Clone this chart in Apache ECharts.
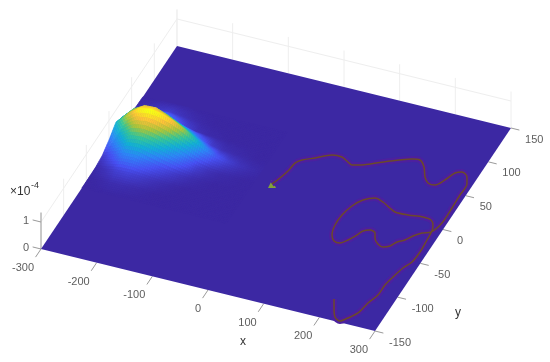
<!DOCTYPE html>
<html>
<head>
<meta charset="utf-8">
<style>
html, body { margin: 0; padding: 0; background: #fff; }
#chart { width: 550px; height: 362px; }
</style>
<script src="https://cdn.jsdelivr.net/npm/echarts@6/dist/echarts.min.js"></script>
</head>
<body>
<div id="chart"></div>
<script>
var xTicks = [-300, -200, -100, 0, 100, 200, 300];
var yTicks = [-150, -100, -50, 0, 50, 100, 150];
var zTicks = [0, 1];
var zTop = 1.35;

// density, in units of 1e-4, zero everywhere outside this patch
var hillX = [-300, -280, -260, -240, -220, -200, -180, -160, -140, -120, -100, -80, -60, -40];
var hillY = [75, 60, 45, 30, 15, 0, -15, -30, -45, -60];
var hillZ = [
    [0.00, 0.00, 0.01, 0.01, 0.01, 0.00, 0.00, 0.00, 0.00, 0.00, 0.00, 0.00, 0.00, 0.00],
    [0.02, 0.04, 0.08, 0.10, 0.06, 0.03, 0.01, 0.00, 0.00, 0.00, 0.00, 0.00, 0.00, 0.00],
    [0.14, 0.24, 0.38, 0.42, 0.28, 0.13, 0.05, 0.02, 0.01, 0.00, 0.00, 0.00, 0.00, 0.00],
    [0.38, 0.78, 1.00, 1.02, 0.86, 0.66, 0.46, 0.26, 0.10, 0.04, 0.02, 0.01, 0.00, 0.00],
    [0.55, 0.95, 1.25, 1.33, 1.28, 1.15, 0.95, 0.68, 0.42, 0.22, 0.12, 0.06, 0.03, 0.01],
    [0.28, 0.52, 0.78, 0.84, 0.76, 0.62, 0.45, 0.28, 0.12, 0.05, 0.02, 0.01, 0.00, 0.00],
    [0.08, 0.22, 0.38, 0.40, 0.30, 0.20, 0.13, 0.07, 0.03, 0.01, 0.00, 0.00, 0.00, 0.00],
    [0.01, 0.06, 0.12, 0.13, 0.10, 0.06, 0.03, 0.01, 0.00, 0.00, 0.00, 0.00, 0.00, 0.00],
    [0.00, 0.01, 0.03, 0.03, 0.02, 0.01, 0.00, 0.00, 0.00, 0.00, 0.00, 0.00, 0.00, 0.00],
    [0.00, 0.00, 0.00, 0.00, 0.00, 0.00, 0.00, 0.00, 0.00, 0.00, 0.00, 0.00, 0.00, 0.00]
];

var trackX = [-10.9, -4.7, 0.9, 2.9, 10.6, 28.6, 51.8, 69.2, 83.6, 92.9, 108.3, 119.7, 147.4, 179.3, 192.6, 206.1, 217.9, 228.8, 241.6, 251.9, 260.1, 269.8, 282.7, 289.9, 290.5, 291.6, 291.6, 284, 271.2, 260.4, 252.2, 241.9, 235.2, 225.4, 214.6, 203.8, 198.7, 187.9, 178.1, 172.9, 164.2, 155, 143.7, 134.4, 128.7, 129.2, 135.3, 146.1, 162.5, 178.9, 195.9, 207.8, 231, 256.1, 271.6, 279.9, 284.5, 286.1, 287.7, 285.7, 278, 271.9, 267.8, 267.3, 260.2, 255.1, 244.8, 235.6, 223.8, 213, 203.7];
var trackY = [4.5, 14.6, 27.6, 38.2, 44.2, 50.9, 60, 60.5, 56.1, 53.5, 56.6, 60.4, 70.4, 79.8, 81, 73.4, 61.1, 54.4, 54, 63.5, 75.4, 78.9, 74.1, 65.2, 49.1, 30.1, 8, -6.9, -11, -17.6, -25.2, -30.2, -37.5, -40.9, -38.7, -31.9, -25.6, -23.4, -26.9, -33.7, -42.9, -49.2, -48.5, -41.5, -27.9, -13.1, 1.5, 12.5, 18.8, 16.2, 10.7, 7.3, 7.5, 9.6, 8.3, 2.6, -5.4, -18.3, -35.7, -50.9, -61.3, -75.8, -88.5, -103.4, -116.6, -132.4, -141.9, -148.2, -144.7, -133.6, -122.2];

var parula = [[60, 40, 163], [72, 82, 244], [46, 135, 247], [18, 177, 214], [55, 200, 151], [171, 199, 57], [254, 195, 56], [249, 251, 21]];
var colorMax = 1.28;
var subSteps = 6;

// orthographic view of the box, the hidden axes below run in page pixels
function project(x, y, z) {
    return [
        41 + (x + 300) * 0.5567 + (y + 150) * 0.4533,
        249 + (x + 300) * 0.1367 - (y + 150) * 0.6767 - z * 27
    ];
}

function zColor(z) {
    var t = Math.min(Math.max(z / colorMax, 0), 1) * (parula.length - 1);
    var i = Math.min(Math.floor(t), parula.length - 2);
    var f = t - i;
    var c = [0, 1, 2].map(function(k) {
        return Math.round(parula[i][k] + (parula[i + 1][k] - parula[i][k]) * f);
    });
    return "rgb(" + c.join(",") + ")";
}

function segment(a, b) {
    return a.concat(b);
}

var wallSegments = [];
xTicks.forEach(function(x) {
    wallSegments.push(segment([x, 150, 0], [x, 150, zTop]));
});
yTicks.forEach(function(y) {
    wallSegments.push(segment([-300, y, 0], [-300, y, zTop]));
});
wallSegments.push(segment([-300, -150, 1], [-300, 150, 1]));
wallSegments.push(segment([-300, 150, 1], [300, 150, 1]));

var tickSegments = [segment([-300, -150, 0], [-300, -150, zTop])];
xTicks.forEach(function(x) {
    tickSegments.push(segment([x, -150, 0], [x, -162, 0]));
});
yTicks.forEach(function(y) {
    tickSegments.push(segment([300, y, 0], [315, y, 0]));
});
zTicks.forEach(function(z) {
    tickSegments.push(segment([-300, -150, z], [-315, -150, z]));
});

function renderSegment(params, api) {
    var a = api.coord(project(api.value(0), api.value(1), api.value(2)));
    var b = api.coord(project(api.value(3), api.value(4), api.value(5)));
    return {
        type: "line",
        shape: { x1: a[0], y1: a[1], x2: b[0], y2: b[1] },
        style: api.style({ fill: null, stroke: api.visual("color"), lineWidth: 1 })
    };
}

// back to front so the front of the hill covers the back
var hillCells = [];
for (let j = 0; j < hillY.length - 1; j++) {
    for (let i = 0; i < hillX.length - 1; i++) {
        hillCells.push([i, j]);
    }
}

function renderCell(params, api) {
    var i = api.value(0);
    var j = api.value(1);
    var children = [];
    // shading interp: each read cell is blended across its own corners
    for (let s = 0; s < subSteps; s++) {
        for (let t = 0; t < subSteps; t++) {
            var corners = [[s, t], [s, t + 1], [s + 1, t + 1], [s + 1, t]];
            var sum = 0;
            var points = corners.map(function(c) {
                var u = c[0] / subSteps;
                var v = c[1] / subSteps;
                var z = (1 - u) * (1 - v) * hillZ[j][i] + (1 - u) * v * hillZ[j][i + 1] + u * (1 - v) * hillZ[j + 1][i] + u * v * hillZ[j + 1][i + 1];
                sum += z;
                var x = hillX[i] + (hillX[i + 1] - hillX[i]) * v;
                var y = hillY[j] + (hillY[j + 1] - hillY[j]) * u;
                return api.coord(project(x, y, z));
            });
            var color = zColor(sum / 4);
            children.push({
                type: "polygon",
                shape: { points: points },
                style: { fill: color, stroke: color, lineWidth: 0.6 }
            });
        }
    }
    return { type: "group", children: children };
}

function renderPlane(params, api) {
    var points = [[-300, -150], [300, -150], [300, 150], [-300, 150]].map(function(c) {
        return api.coord(project(c[0], c[1], 0));
    });
    return { type: "polygon", shape: { points: points }, style: { fill: zColor(0) } };
}

function trackPoints() {
    return trackX.map(function(x, i) {
        return project(x, trackY[i], 0);
    });
}

function labelSeries(name, data, offset, align) {
    return {
        name: name,
        type: "scatter",
        symbolSize: 0,
        silent: true,
        z: 5,
        data: data,
        label: {
            show: true,
            position: offset,
            align: align,
            verticalAlign: "middle",
            color: "#333",
            fontFamily: "Liberation Sans",
            fontSize: 11,
            formatter: function(p) {
                return p.data[2];
            }
        }
    };
}

var chart = echarts.init(document.getElementById("chart"));
chart.setOption({
    animation: false,
    backgroundColor: "#fff",
    grid: { left: 0, right: 0, top: 0, bottom: 0 },
    xAxis: { type: "value", min: 0, max: 550, show: false },
    yAxis: { type: "value", min: 0, max: 362, inverse: true, show: false },
    graphic: [
        { type: "text", left: 10, top: 186, style: { text: "×10", fill: "#333", font: "12px Liberation Sans" } },
        { type: "text", left: 31, top: 181, style: { text: "-4", fill: "#333", font: "9px Liberation Sans" } },
        { type: "text", left: 240, top: 336, style: { text: "x", fill: "#333", font: "12px Liberation Sans" } },
        { type: "text", left: 455, top: 307, style: { text: "y", fill: "#333", font: "12px Liberation Sans" } }
    ],
    series: [
        {
            name: "walls",
            type: "custom",
            coordinateSystem: "cartesian2d",
            silent: true,
            itemStyle: { color: "#eeeeee" },
            renderItem: renderSegment,
            data: wallSegments
        },
        {
            name: "ticks",
            type: "custom",
            coordinateSystem: "cartesian2d",
            silent: true,
            itemStyle: { color: "#9a9a9a" },
            renderItem: renderSegment,
            data: tickSegments
        },
        {
            name: "plane",
            type: "custom",
            coordinateSystem: "cartesian2d",
            silent: true,
            renderItem: renderPlane,
            data: [[0, 0]]
        },
        {
            name: "density",
            type: "custom",
            coordinateSystem: "cartesian2d",
            silent: true,
            renderItem: renderCell,
            data: hillCells
        },
        {
            name: "track halo",
            type: "line",
            silent: true,
            symbol: "none",
            smooth: 0.3,
            lineStyle: { color: "#4c209f", width: 6 },
            data: trackPoints()
        },
        {
            name: "track",
            type: "line",
            silent: true,
            symbol: "none",
            smooth: 0.3,
            lineStyle: { color: "#6b4a2a", width: 1.5 },
            data: trackPoints()
        },
        {
            name: "start",
            type: "scatter",
            silent: true,
            symbol: "triangle",
            symbolSize: 8,
            itemStyle: { color: "#94c11f" },
            data: [project(trackX[0], trackY[0], 0)]
        },
        labelSeries("x ticks", xTicks.map(function(x) {
            return project(x, -150, 0).concat(String(x));
        }), [-7, 19], "right"),
        labelSeries("y ticks", yTicks.map(function(y) {
            return project(300, y, 0).concat(String(y));
        }), [14, 11.5], "left"),
        labelSeries("z ticks", zTicks.map(function(z) {
            return project(-300, -150, z).concat(String(z));
        }), [-12, -1.5], "right")
    ]
});
</script>
</body>
</html>
